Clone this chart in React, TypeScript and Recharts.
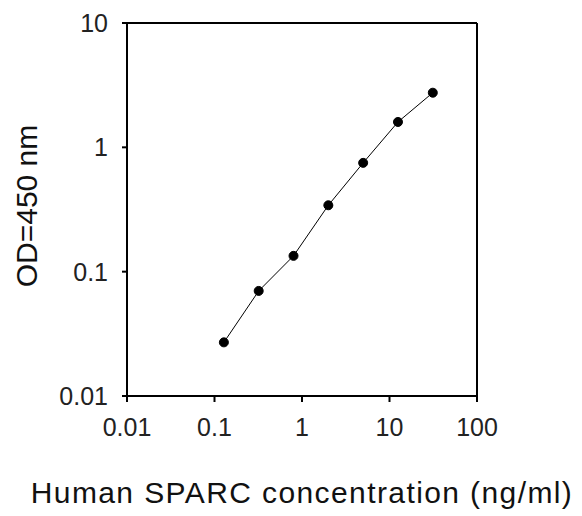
import { LineChart, Line, XAxis, YAxis, ReferenceLine, Label } from 'recharts';

const concentration = [0.128, 0.32, 0.8, 2, 5, 12.5, 31.25];
const od = [0.027, 0.07, 0.134, 0.342, 0.75, 1.6, 2.75];
const xTicks = [0.01, 0.1, 1, 10, 100];
const yTicks = [0.01, 0.1, 1, 10];

const data = concentration.map((x, i) => ({ x, y: od[i] }));

const font = 'Arial, "Liberation Sans", sans-serif';

export default function App() {
  return (
    <div style={{ position: 'absolute', left: 0, top: 0, background: '#fff' }}>
      <LineChart width={582} height={516} data={data} margin={{ top: 23, right: 105, bottom: 0, left: 0 }}>
        <XAxis
          dataKey="x"
          type="number"
          scale="log"
          domain={[0.01, 100]}
          ticks={xTicks}
          allowDataOverflow
          height={120}
          tickSize={6}
          tickMargin={16}
          stroke="#000"
          strokeWidth={2}
          tick={{ fontSize: 25, fill: '#222', fontFamily: font }}
          tickFormatter={(v: number) => String(v)}
        >
          <Label
            content={() => (
              <text
                x={302}
                y={503}
                textAnchor="middle"
                fontSize={30}
                fontFamily={font}
                letterSpacing={1.4}
                fill="#111"
              >
                Human SPARC concentration (ng/ml)
              </text>
            )}
          />
        </XAxis>
        <YAxis
          dataKey="y"
          type="number"
          scale="log"
          domain={[0.01, 10]}
          ticks={yTicks}
          allowDataOverflow
          width={127}
          tickSize={5}
          tickMargin={14}
          stroke="#000"
          strokeWidth={2}
          tick={{ fontSize: 25, fill: '#222', fontFamily: font }}
          tickFormatter={(v: number) => String(v)}
        >
          <Label
            content={() => (
              <text
                x={26}
                y={206}
                transform="rotate(-90, 26, 206)"
                textAnchor="middle"
                dominantBaseline="central"
                fontSize={30}
                fontFamily={font}
                fill="#111"
              >
                OD=450 nm
              </text>
            )}
          />
        </YAxis>
        <ReferenceLine y={10} stroke="#000" strokeWidth={2} />
        <ReferenceLine x={100} stroke="#000" strokeWidth={2} />
        <Line
          type="linear"
          dataKey="y"
          stroke="#000"
          strokeWidth={1}
          dot={{ r: 4.5, fill: '#000', stroke: '#000', strokeWidth: 1 }}
          isAnimationActive={false}
        />
      </LineChart>
    </div>
  );
}
